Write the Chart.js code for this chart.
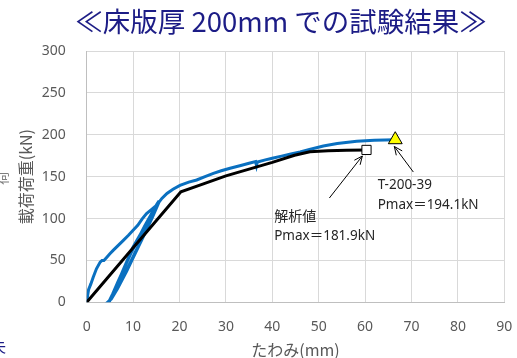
<!DOCTYPE html>
<html>
<head>
<meta charset="utf-8">
<script src="https://cdn.jsdelivr.net/npm/chart.js@4.4.1/dist/chart.umd.min.js"></script>
<style>
  html, body { margin: 0; padding: 0; background: #ffffff; }
  #wrap { width: 517px; height: 358px; position: relative; overflow: hidden; }
</style>
</head>
<body>
<div id="wrap"><canvas id="c" width="517" height="358"></canvas></div>
<script>
// Load test T-200-39: deflection (mm) and applied load (kN), incl. unload/reload cycles
const testDeflection = [
  0, 0.2, 0.4, 0.9, 1.4, 2.1, 2.9, 3.3, 3.7, 4.2, 5.0, 5.7, 6.8, 7.9, 9.0, 10.0, 11.0, 12.0, 12.9, 14.0, 14.7, 15.4, 15.7,
  15.3, 14.2, 12.6, 10.6, 8.6, 6.6, 5.3, 4.5,
  4.7, 5.6, 6.7, 8.0, 9.5, 11.0, 12.5, 14.0, 15.2, 15.6,
  15.0, 13.4, 11.6, 9.8, 8.0, 6.2, 5.0, 4.6,
  4.9, 6.0, 7.8, 10.0, 12.9, 15.1, 16.2, 17.3, 18.6,
  20.1, 22.0, 23.7, 25.5, 27.3, 29.0, 30.9, 33.0, 35.0, 36.4, 36.6, 36.8, 38.5, 40.0, 42.0, 44.0, 46.0, 48.0,
  51.0, 54.0, 58.2, 62.0, 66.5
];
const testLoad = [
  0, 8, 15, 22, 30, 40, 48, 50, 50, 53, 58, 62, 68, 74, 80, 86, 92, 100, 106, 111, 114, 118, 121,
  116, 102, 83, 60, 37, 16, 4, 0,
  0, 10, 24, 40, 58, 75, 91, 106, 118, 121,
  114, 95, 73, 52, 32, 13, 2, 0,
  1, 14, 38, 66, 94, 116, 124, 130, 135,
  139.5, 143.5, 146, 150, 154, 157, 160, 163, 166, 168, 163, 167.5, 170, 172, 174.5, 177, 179.5, 182.5,
  186.5, 189.5, 192.3, 193.5, 194.1
];

// Analytical load-deflection curve
const analysisDeflection = [0, 20.3, 25, 30, 35, 40, 44.8, 48.1, 52, 56, 60.3];
const analysisLoad       = [0, 132, 141, 151, 159, 167, 175.6, 179.7, 181, 181.6, 181.9];

// Axis ranges
const xMin = 0, xMax = 90, xStep = 10;
const yMin = 0, yMax = 300, yStep = 50;

// Callout texts and their arrows (data coordinates)
const analysisNote = ['解析値', 'Pmax＝181.9kN'];
const analysisNoteAt = { x: 40.4, y: [103.3, 79.1] };
const testNote = ['T-200-39', 'Pmax＝194.1kN'];
const testNoteAt = { x: 62.7, y: [140, 116.1] };
const arrows = [
  { from: [52.3, 124.5], to: [59.4, 174.6] },
  { from: [70.4, 155.5], to: [66.3, 186.0] }
];

const chartTitle = '≪床版厚 200mm での試験結果≫';
const xTitle = 'たわみ(mm)';
const yTitle = '載荷荷重(kN)';

const toPoints = (xs, ys) => xs.map((v, i) => ({ x: v, y: ys[i] }));
const lastOnly = (n, r) => (c) => (c.dataIndex === n - 1 ? r : 0);

const JP = '"Noto Sans CJK JP", "Noto Sans", sans-serif';
const LAT = '"Noto Sans", "Noto Sans CJK JP", sans-serif';

const overlay = {
  id: 'overlay',
  afterDatasetsDraw(chart) {
    const { ctx, scales: { x, y } } = chart;
    ctx.save();
    // arrows
    ctx.strokeStyle = '#000000';
    ctx.lineWidth = 1;
    for (const a of arrows) {
      const x1 = x.getPixelForValue(a.from[0]), y1 = y.getPixelForValue(a.from[1]);
      const x2 = x.getPixelForValue(a.to[0]),   y2 = y.getPixelForValue(a.to[1]);
      ctx.beginPath();
      ctx.moveTo(x1, y1); ctx.lineTo(x2, y2);
      const ang = Math.atan2(y2 - y1, x2 - x1);
      const L = 9, spread = 0.42;
      ctx.moveTo(x2 - L * Math.cos(ang - spread), y2 - L * Math.sin(ang - spread));
      ctx.lineTo(x2, y2);
      ctx.lineTo(x2 - L * Math.cos(ang + spread), y2 - L * Math.sin(ang + spread));
      ctx.stroke();
    }
    // callout labels
    ctx.fillStyle = '#262626';
    ctx.textAlign = 'left';
    ctx.textBaseline = 'middle';
    const note = (lines, at) => {
      lines.forEach((t, i) => {
        ctx.font = (/[\u3040-\u9fff]/.test(t) ? '14px ' + JP : '13.5px ' + LAT);
        ctx.fillText(t, x.getPixelForValue(at.x), y.getPixelForValue(at.y[i]));
      });
    };
    note(analysisNote, analysisNoteAt);
    note(testNote, testNoteAt);
    ctx.restore();
  },
  afterDraw(chart) {
    const { ctx } = chart;
    ctx.save();
    ctx.fillStyle = '#1c1c86';
    ctx.font = '27.5px ' + JP;
    ctx.textAlign = 'center';
    ctx.textBaseline = 'middle';
    ctx.fillText(chartTitle, 281, 22);
    // clipped neighbouring glyphs at the left edge
    ctx.font = '15px ' + JP;
    ctx.fillStyle = '#1c1c86';
    ctx.textAlign = 'left';
    ctx.fillText('失', -9, 346);
    ctx.translate(4, 178);
    ctx.rotate(-Math.PI / 2);
    ctx.fillStyle = '#7f7f7f';
    ctx.font = '14px ' + JP;
    ctx.textAlign = 'center';
    ctx.fillText('荷', 0, -2);
    ctx.restore();
  }
};

new Chart(document.getElementById('c'), {
  type: 'scatter',
  data: {
    datasets: [
      {
        label: '解析値',
        data: toPoints(analysisDeflection, analysisLoad),
        showLine: true,
        borderColor: '#000000',
        borderWidth: 3,
        tension: 0,
        pointStyle: 'rect',
        pointRadius: lastOnly(analysisDeflection.length, 6.5),
        pointHoverRadius: 0,
        pointBackgroundColor: '#ffffff',
        pointBorderColor: '#000000',
        pointBorderWidth: 1
      },
      {
        label: 'T-200-39',
        data: toPoints(testDeflection, testLoad),
        showLine: true,
        borderColor: '#0a70c0',
        borderWidth: 3,
        tension: 0,
        pointStyle: 'triangle',
        pointRadius: lastOnly(testDeflection.length, 8),
        pointHoverRadius: 0,
        pointBackgroundColor: '#ffff00',
        pointBorderColor: '#000000',
        pointBorderWidth: 1
      }
    ]
  },
  options: {
    responsive: false,
    animation: false,
    events: [],
    layout: { padding: { top: 51, right: 12.7, bottom: 0, left: 0 } },
    plugins: { legend: { display: false }, tooltip: { enabled: false }, title: { display: false } },
    scales: {
      x: {
        type: 'linear', min: xMin, max: xMax,
        afterFit(s) { s.height = 55.7; s.paddingLeft = 0; s.paddingRight = 0; },
        grid: { color: '#d9d9d9', lineWidth: 1, drawTicks: false },
        border: { color: '#bfbfbf' },
        ticks: { stepSize: xStep, padding: 16, color: '#595959', font: { family: LAT, size: 14 } },
        title: { display: true, text: xTitle, color: '#595959', padding: { top: 0, bottom: 0 },
                 font: { family: JP, size: 16, lineHeight: 1 } }
      },
      y: {
        type: 'linear', min: yMin, max: yMax,
        afterFit(s) { s.width = 86.7; s.paddingTop = 0; s.paddingBottom = 0; },
        grid: { color: '#d9d9d9', lineWidth: 1, drawTicks: false },
        border: { color: '#bfbfbf' },
        ticks: { stepSize: yStep, padding: 21, color: '#595959', font: { family: LAT, size: 14 } },
        title: { display: true, text: yTitle, color: '#595959', padding: { top: 18, bottom: 0 },
                 font: { family: JP, size: 16, lineHeight: 1 } }
      }
    }
  },
  plugins: [overlay]
});
</script>
</body>
</html>
